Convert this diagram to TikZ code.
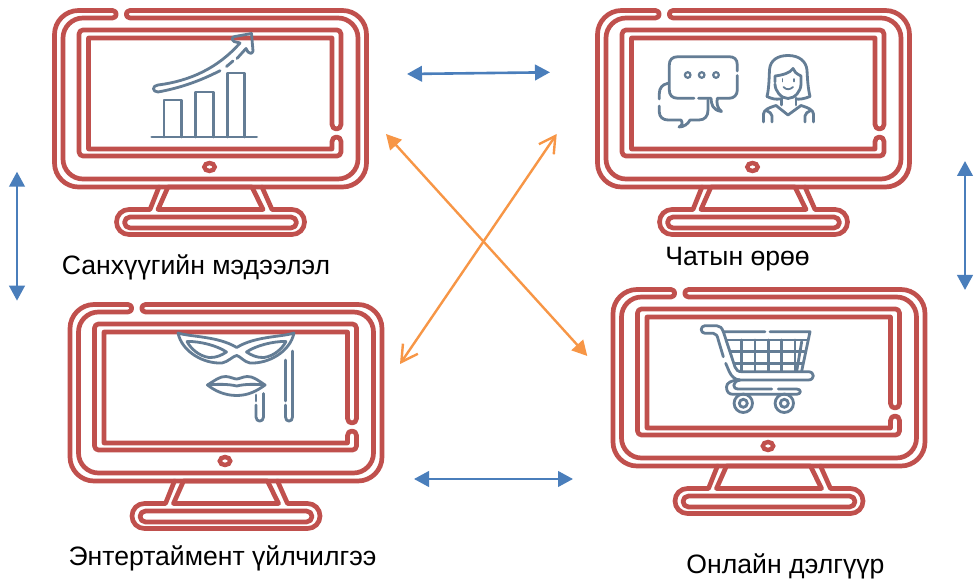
\documentclass[tikz,border=0pt]{standalone}
\usepackage{fontspec}
\setmainfont{Liberation Sans}
\usetikzlibrary{arrows.meta}
\definecolor{monred}{HTML}{C0504D}
\definecolor{iconblue}{HTML}{647D95}
\definecolor{arrblue}{HTML}{4A7EBB}
\definecolor{arrorange}{HTML}{F79646}
\tikzset{
  mon/.style={draw=monred,line width=4.7pt,line join=round,line cap=round},
  ico/.style={draw=iconblue,line width=2.8pt,line join=round,line cap=round},
  bluearrow/.style={draw=arrblue,line width=2.6pt,{Triangle[length=15pt,width=15.5pt]}-{Triangle[length=15pt,width=15.5pt]}},
  orangefill/.style={draw=arrorange,line width=2.4pt,{Triangle[length=15pt,width=15.5pt]}-{Triangle[length=15pt,width=15.5pt]}},
  orangebarb/.style={draw=arrorange,line width=2.4pt,{Straight Barb[length=16pt,width=18pt,line width=2.4pt]}-{Straight Barb[length=16pt,width=18pt,line width=2.4pt]}},
  lab/.style={font=\fontsize{26.6pt}{30pt}\selectfont,text=black,inner sep=0pt},
  monitor/.pic={
    % case
    \draw[mon] (112.5,10.5) -- (78.5,10.5) .. controls (65.3,10.5) and (54.5,21.3) .. (54.5,34.5)
      -- (54.5,163) .. controls (54.5,176.2) and (65.3,187) .. (78.5,187)
      -- (342.5,187) .. controls (355.7,187) and (366.5,176.2) .. (366.5,163)
      -- (366.5,34.5) .. controls (366.5,21.3) and (355.7,10.5) .. (342.5,10.5)
      -- (130,10.5) .. controls (125,10.5) and (125,18) .. (130,18)
      -- (338,18) .. controls (349,18) and (358,27) .. (358,38)
      -- (358,159) .. controls (358,170) and (349,179) .. (338,179)
      -- (83,179) .. controls (72,179) and (63,170) .. (63,159)
      -- (63,38) .. controls (63,27) and (72,18) .. (83,18)
      -- (112.5,18) .. controls (117.5,18) and (117.5,10.5) .. cycle;
    % screen
    \draw[mon] (332,124.5) -- (332,38) -- (88.5,38) -- (88.5,149) -- (332,149) -- (332,141.5)
      .. controls (332,135.5) and (341,135.5) .. (341,141.5)
      -- (341,152) .. controls (341,154.5) and (339,156) .. (337,156)
      -- (83,156) .. controls (81,156) and (79,154.5) .. (79,152)
      -- (79,34) .. controls (79,31.5) and (81,30) .. (83,30)
      -- (337,30) .. controls (339,30) and (341,31.5) .. (341,34)
      -- (341,124.5) .. controls (341,130.5) and (332,130.5) .. cycle;
    % button
    \draw[monred,line width=4.4pt] (209.5,167) ellipse [x radius=5.2pt,y radius=4pt];
    % stand
    \draw[mon] (159,187) -- (150,209.5) -- (129,209.5) .. controls (122,209.5) and (116.5,215) .. (116.5,222)
      .. controls (116.5,229) and (122,234.5) .. (129,234.5) -- (292,234.5)
      .. controls (299,234.5) and (304.5,229) .. (304.5,222) .. controls (304.5,215) and (299,209.5) .. (292,209.5)
      -- (272,209.5) -- (262,187);
    \draw[mon] (168,187) -- (158,209.5) -- (263,209.5) -- (252,187) -- cycle;
    \draw[mon,rounded corners=5.5pt] (124.5,217) rectangle (296.5,228);
  }
}
\begin{document}
\begin{tikzpicture}[x=1pt,y=-1pt]
\useasboundingbox (0,0) rectangle (975,585);
\fill[white] (0,0) rectangle (975,585);

\pic (monA) at (0,0) {monitor};
\pic (monB) at (543,0) {monitor};
\pic (monC) at (15.5,294) {monitor};
\pic (monD) at (558.5,279) {monitor};

% chart icon
\draw[ico] (151.7,137) -- (256.7,137);
\draw[ico] (164,137) -- (164,100) -- (181.7,100) -- (181.7,137);
\draw[ico] (195.7,137) -- (195.7,92) -- (213.3,92) -- (213.3,137);
\draw[ico] (227.3,137) -- (227.3,73) -- (244.7,73) -- (244.7,137);
\draw[ico] (220,70.7) .. controls (200,81) and (180,88) .. (158,92)
  .. controls (152,92) and (152,85.5) .. (158,85)
  .. controls (190,81) and (218,68) .. (240,43)
  -- (234,41.5) .. controls (231,39) and (232,37) .. (235,36.5) -- (251.5,33.5) -- (253,51)
  .. controls (252.5,54) and (249,54) .. (248,52) -- (246,48.5) -- (237,58.5);
\draw[ico] (233,61) -- (226.5,66.5);

% chat icon
\draw[ico] (737.3,71) -- (737.3,65) .. controls (737.3,59) and (734,56.7) .. (729,56.7) -- (678,56.7)
  .. controls (672,56.7) and (669.3,60) .. (669.3,65) -- (669.3,90) .. controls (669.3,95) and (672,98.3) .. (678,98.3) -- (694,98.3);
\draw[ico] (698.5,98.3) -- (711,98.3) .. controls (711.5,104) and (712,110) .. (721.5,111.5) .. controls (717,108) and (716.5,103) .. (717.3,98.3) -- (729,98.3)
  .. controls (734,98.3) and (737.3,95) .. (737.3,90) -- (737.3,75.5);
\foreach \px in {687.7,701.7,716}{
  \draw[iconblue,line width=2.2pt] (\px,75) circle (2.8pt);
}
\draw[ico] (668,83.3) .. controls (662,84.5) and (659.3,88) .. (659.3,94) -- (659.3,99);
\draw[ico] (659.3,106) -- (659.3,112) .. controls (659.3,117) and (663,120) .. (668,120) -- (681,120)
  .. controls (683,123) and (682,125.5) .. (679,127) .. controls (684,127) and (688,124) .. (690,120) -- (699,120)
  .. controls (705,120) and (708,116) .. (708,110) -- (708,100);

% woman icon
\draw[ico] (767,96.5) .. controls (769,88) and (769,80) .. (769.5,70) .. controls (770,60) and (778,55.5) .. (788,55.5)
  .. controls (799,55.5) and (806,61) .. (807,70) .. controls (807.5,80) and (808,88) .. (810,96.5) .. controls (804,99) and (799,99.5) .. (796,99);
\draw[ico] (767,96.5) .. controls (772,99) and (776,99.5) .. (780,99);
\draw[ico] (775,82) -- (775,76) .. controls (783,75) and (790,73) .. (793,68.5) .. controls (794,71.5) and (796,73.5) .. (801,76) -- (801,84)
  .. controls (801,91) and (795,98.5) .. (788,98.5) .. controls (781,98.5) and (775,91) .. (775,84);
\draw[ico,line width=1.8pt] (782.5,79) -- (782.5,81.5) (794,79) -- (794,81.5);
\draw[ico,line width=1.8pt] (783.5,87) .. controls (786,90) and (790,90) .. (793,87);
\draw[ico] (781.5,98) -- (781.5,105) (796,98) -- (796,105);
\draw[ico] (776,105.5) -- (788,115) -- (801,105.5);
\draw[ico] (763.5,122) -- (763.5,114) .. controls (764,110) and (768,108) .. (776,105.5);
\draw[ico] (813.5,122) -- (813.5,114) .. controls (813,110) and (809,108) .. (801,105.5);
\draw[ico] (772,122) -- (772,116) .. controls (771.5,113) and (769.5,112) .. (767,111);
\draw[ico] (805,122) -- (805,116) .. controls (805.5,113) and (807.5,112) .. (810,111);

% mask icon
\draw[ico] (178,333) .. controls (190,337) and (218,336) .. (236.7,347.5) .. controls (255,336) and (283,337) .. (294,333)
  .. controls (290,352) and (268,364) .. (250,363) .. controls (244,362) and (240,356) .. (236.7,355.5)
  .. controls (233,356) and (228,362) .. (222,363) .. controls (204,364) and (182,352) .. (178,333) -- cycle;
\draw[ico] (187,341.5) .. controls (200,341) and (218,346) .. (226.5,352) .. controls (222,355) and (216,358) .. (209,357.5) .. controls (199,356) and (191,349) .. (187,341.5) -- cycle;
\draw[ico] (286,341.5) .. controls (273,341) and (255,346) .. (246.5,352) .. controls (251,355) and (257,358) .. (264,357.5) .. controls (274,356) and (282,349) .. (286,341.5) -- cycle;
% mask stick
\draw[ico] (292.5,351) -- (292.5,417) .. controls (292.5,422.5) and (285.5,422.5) .. (285.5,417) -- (285.5,405);
\draw[ico] (285.5,401) -- (285.5,360);
% lips
\draw[ico] (207.5,385) .. controls (214,381) and (220,376) .. (226,376.5) .. controls (231,377) and (234,379) .. (236.7,379) .. controls (239,379) and (242,377) .. (247,376.5) .. controls (253,376) and (259,381) .. (265,385)
  .. controls (257,391) and (248,395.5) .. (236.7,395.5) .. controls (225,395.5) and (215,391) .. (207.5,385) -- cycle;
\draw[ico] (207.5,385) .. controls (218,384) and (228,384) .. (236.7,386) .. controls (245,384) and (255,384) .. (265,385);
% lip stick
\draw[ico] (263.5,393.5) -- (263.5,417) .. controls (263.5,422.5) and (256,422.5) .. (256,417) -- (256,405);
\draw[ico] (256,401) -- (256,395);

% cart icon
\draw[ico] (723.3,331.7) .. controls (722,328) and (720,325.7) .. (716.7,325.7) -- (705,325.7)
  .. controls (700,325.7) and (700,333.3) .. (705,333.3) -- (713.3,333.3) .. controls (716,333.3) and (717.5,336) .. (718.3,340) -- (723.3,356.7);
\draw[ico] (725.7,363.3) -- (729,371) .. controls (731,376) and (735,380) .. (740,380) -- (808.3,380)
  .. controls (815,380) and (815,371.7) .. (808.3,371.7) -- (741.7,371.7) .. controls (738,371.7) and (736,370) .. (735,367) -- (723.3,331.7) -- (765,331.7);
\draw[ico] (770,331.7) -- (810,331.7) -- (801.7,371);
\draw[ico] (726.7,340) -- (806.7,340);
\draw[ico] (731,351.7) -- (804.5,351.7);
\draw[ico] (735,363.3) -- (802,363.3);
\foreach \gx in {741.7,755,768.3,781.7,795}{ \draw[ico] (\gx,340) -- (\gx,371); }
\draw[ico] (801.7,341.7) -- (796.7,371);
\draw[ico] (740,380) .. controls (731,380) and (726.5,383) .. (726.5,387) .. controls (726.5,392) and (729,394.3) .. (733,394.3) -- (796.7,394.3)
  .. controls (801.5,394.3) and (801.5,389) .. (796.7,389) -- (778.3,389);
\draw[ico] (771.7,389) -- (738.3,389) .. controls (732,389) and (732,381.5) .. (740,380);
\draw[iconblue,line width=2.8pt] (743.3,403.3) circle (9.2pt) (743.3,403.3) circle (4pt);
\draw[iconblue,line width=2.8pt] (784.3,403.3) circle (9.2pt) (784.3,403.3) circle (4pt);

% labels
\node[lab] (labA) at (196,267) {Санхүүгийн мэдээлэл};
\node[lab] (labB) at (737.5,259) {Чатын өрөө};
\node[lab] (labC) at (222.5,558) {Энтертаймент үйлчилгээ};
\node[lab] (labD) at (785.5,566) {Онлайн дэлгүүр};

% connectors
\coordinate (abL) at (407,74);
\coordinate (abR) at (550,72.3);
\coordinate (cdL) at (414,479);
\coordinate (cdR) at (573,479);
\coordinate (acT) at (17,171.7);
\coordinate (acB) at (17,300.7);
\coordinate (bdT) at (965,161);
\coordinate (bdB) at (965,290);
\coordinate (adS) at (386,134);
\coordinate (adE) at (587.3,356);
\coordinate (cbS) at (400,364);
\coordinate (cbE) at (556.7,134);
\draw[bluearrow] (abL) -- (abR);
\draw[bluearrow] (cdL) -- (cdR);
\draw[bluearrow] (acT) -- (acB);
\draw[bluearrow] (bdT) -- (bdB);
\draw[orangefill] (adS) -- (adE);
\draw[orangebarb] (cbS) -- (cbE);
\end{tikzpicture}
\end{document}
